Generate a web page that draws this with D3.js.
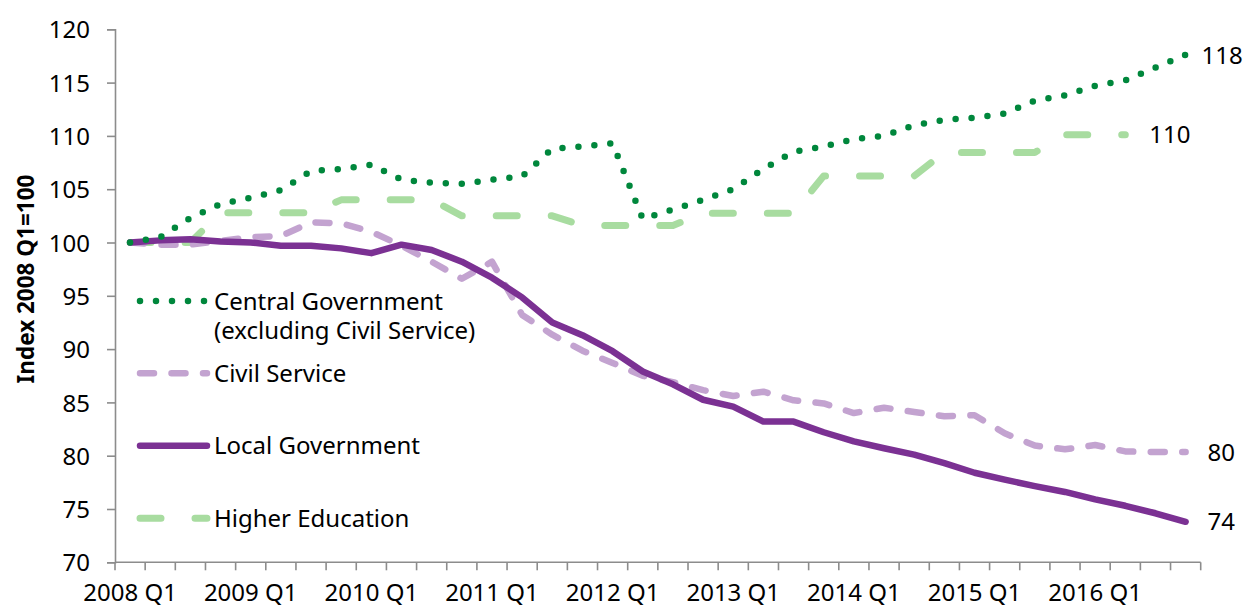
<!DOCTYPE html>
<html>
<head>
<meta charset="utf-8">
<script src="https://cdn.jsdelivr.net/npm/d3@7"></script>
<style>
  html, body { margin: 0; padding: 0; background: #fff; }
  svg { display: block; }
  text { font-family: "Noto Sans", "Open Sans", sans-serif; fill: #000; }
</style>
</head>
<body>
<svg id="chart" width="1247" height="608"></svg>
<script>
// Quarterly public sector employment, indexed to 2008 Q1 = 100
const quarters = [
  "2008 Q1","2008 Q2","2008 Q3","2008 Q4",
  "2009 Q1","2009 Q2","2009 Q3","2009 Q4",
  "2010 Q1","2010 Q2","2010 Q3","2010 Q4",
  "2011 Q1","2011 Q2","2011 Q3","2011 Q4",
  "2012 Q1","2012 Q2","2012 Q3","2012 Q4",
  "2013 Q1","2013 Q2","2013 Q3","2013 Q4",
  "2014 Q1","2014 Q2","2014 Q3","2014 Q4",
  "2015 Q1","2015 Q2","2015 Q3","2015 Q4",
  "2016 Q1","2016 Q2","2016 Q3","2016 Q4"
];
const tickLabels = ["2008 Q1","2009 Q1","2010 Q1","2011 Q1","2012 Q1","2013 Q1","2014 Q1","2015 Q1","2016 Q1"];
const yTicks = [70, 75, 80, 85, 90, 95, 100, 105, 110, 115, 120];

const centralGov = [
  100.0, 100.5, 102.3, 103.6, 104.2, 104.9, 106.7, 106.9, 107.3, 105.9,
  105.6, 105.5, 105.9, 106.2, 108.8, 109.0, 109.3, 102.2, 103.1, 104.0,
  105.0, 106.9, 108.5, 109.0, 109.7, 110.0, 111.0, 111.5, 111.7, 112.1,
  113.3, 113.8, 114.7, 115.2, 116.4, 117.6
];
const civilService = [
  100.0, 99.8, 99.8, 100.15, 100.5, 100.6, 101.9, 101.8, 101.0, 99.7,
  98.2, 96.6, 98.2, 93.2, 91.35, 89.85, 88.7, 87.5, 86.9, 86.15,
  85.6, 86.0, 85.2, 84.9, 84.0, 84.5, 84.1, 83.7, 83.8, 82.1,
  80.95, 80.6, 81.0, 80.4, 80.35, 80.35
];
const localGov = [
  100.0, 100.2, 100.3, 100.1, 100.0, 99.7, 99.7, 99.45, 99.0, 99.8,
  99.3, 98.2, 96.7, 94.85, 92.5, 91.3, 89.8, 87.9, 86.7, 85.25,
  84.6, 83.2, 83.2, 82.2, 81.35, 80.7, 80.1, 79.3, 78.4, 77.75,
  77.15, 76.6, 75.9, 75.3, 74.6, 73.8
];
// Higher Education series runs to 2016 Q2
const higherEd = [
  100.0, 100.0, 100.0, 102.8, 102.8, 102.8, 102.8, 104.0, 104.0, 104.0,
  104.0, 102.5, 102.5, 102.5, 102.5, 101.6, 101.6, 101.6, 101.6, 102.75,
  102.75, 102.75, 102.75, 106.25, 106.25, 106.25, 106.25, 108.45, 108.45, 108.45,
  108.45, 110.1, 110.1, 110.1
];
const endLabels = ["118", "80", "74", "110"];

const seriesNames = ["Central Government", "Civil Service", "Local Government", "Higher Education"];

const styles = [
  { color: "#00873c", width: 6.5, dash: "0,16" },
  { color: "#c3a3d0", width: 6.5, dash: "14,17.5" },
  { color: "#7b3193", width: 6.5, dash: null },
  { color: "#a8dca0", width: 7, dash: "21,34" }
];

const series = [
  { name: seriesNames[0], values: centralGov, label: endLabels[0], style: styles[0] },
  { name: seriesNames[1], values: civilService, label: endLabels[1], style: styles[1] },
  { name: seriesNames[2], values: localGov, label: endLabels[2], style: styles[2] },
  { name: seriesNames[3], values: higherEd, label: endLabels[3], style: styles[3] }
];

const svg = d3.select("#chart");
const fontSize = 24;
const axisColor = "#8c8c8c";

const x = d3.scaleBand().domain(quarters).range([115, 1200.7]).paddingInner(0).paddingOuter(0);
const y = d3.scaleLinear().domain([70, 120]).range([562.3, 29.3]);
const cx = q => x(q) + x.bandwidth() / 2;

// Y axis
const yAxis = svg.append("g").attr("transform", "translate(115,0)")
  .call(d3.axisLeft(y).tickValues(yTicks).tickSize(8).tickPadding(17).tickFormat(d3.format("d")));
yAxis.select(".domain").attr("stroke", axisColor).attr("stroke-width", 1.6);
yAxis.selectAll(".tick line").attr("stroke", axisColor).attr("stroke-width", 1.6);
yAxis.selectAll(".tick text")
  .attr("font-size", fontSize).attr("font-family", "Noto Sans").attr("fill", "#000")
  .attr("dy", "0.36em");

// X axis: tick marks on quarter boundaries, labels at each Q1
const xg = svg.append("g").attr("transform", "translate(0,562.3)");
xg.append("line").attr("x1", 115).attr("x2", 1200.7).attr("y1", 0).attr("y2", 0)
  .attr("stroke", axisColor).attr("stroke-width", 1.6);
const boundaries = quarters.map(q => x(q)).concat([x(quarters[quarters.length - 1]) + x.bandwidth()]);
xg.selectAll("line.tk").data(boundaries).enter().append("line").attr("class", "tk")
  .attr("x1", d => d).attr("x2", d => d).attr("y1", 0).attr("y2", 8)
  .attr("stroke", axisColor).attr("stroke-width", 1.6);
xg.selectAll("text.lab").data(tickLabels).enter().append("text").attr("class", "lab")
  .attr("x", d => cx(d)).attr("y", 39).attr("text-anchor", "middle")
  .attr("font-size", fontSize).text(d => d);

// Y axis title
svg.append("text")
  .attr("transform", "translate(33.5,279) rotate(-90)")
  .attr("text-anchor", "middle").attr("font-size", 22.5).attr("font-weight", "bold")
  .text("Index 2008 Q1=100");

// Lines
const line = d3.line().x((d, i) => cx(quarters[i])).y(d => y(d));
const plot = svg.append("g");
// draw order: Higher Education, Civil Service, Local Government, Central Government
[3, 1, 2, 0].forEach(k => {
  const s = series[k];
  plot.append("path").datum(s.values)
    .attr("d", line)
    .attr("fill", "none")
    .attr("stroke", s.style.color)
    .attr("stroke-width", s.style.width)
    .attr("stroke-linecap", "round")
    .attr("stroke-linejoin", "round")
    .attr("stroke-dasharray", s.style.dash);
});

// End-of-line value labels
const labelOffsets = [16, 22, 22, 24];
series.forEach((s, k) => {
  const n = s.values.length - 1;
  svg.append("text")
    .attr("x", cx(quarters[n]) + labelOffsets[k])
    .attr("y", y(s.values[n]))
    .attr("dy", "0.36em")
    .attr("font-size", fontSize)
    .text(s.label);
});

// Legend
const legendRows = [
  { s: series[0], y: 301, lines: ["Central Government", "(excluding Civil Service)"] },
  { s: series[1], y: 373.3, lines: ["Civil Service"] },
  { s: series[2], y: 445.7, lines: ["Local Government"] },
  { s: series[3], y: 518.3, lines: ["Higher Education"] }
];
const legend = svg.append("g");
legendRows.forEach(r => {
  legend.append("line")
    .attr("x1", 140).attr("x2", 207).attr("y1", r.y).attr("y2", r.y)
    .attr("stroke", r.s.style.color)
    .attr("stroke-width", r.s.style.width)
    .attr("stroke-linecap", "round")
    .attr("stroke-dasharray", r.s.style.dash);
  const t = legend.append("text")
    .attr("x", 214).attr("y", r.y + 8.6)
    .attr("font-size", fontSize);
  r.lines.forEach((s, j) => {
    t.append("tspan").attr("x", 214).attr("dy", j === 0 ? 0 : 29).text(s);
  });
});
</script>
</body>
</html>
